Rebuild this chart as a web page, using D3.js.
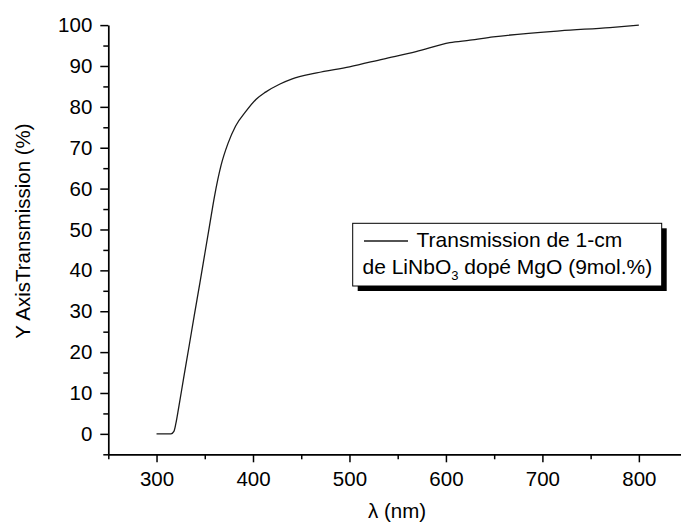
<!DOCTYPE html>
<html><head><meta charset="utf-8">
<script src="https://cdn.jsdelivr.net/npm/d3@7"></script>
<style>html,body{margin:0;padding:0;background:#fff;}svg{display:block;font-family:"Liberation Sans",Arial,sans-serif;}</style>
</head><body>
<script>
const wavelength = [300,315,318,320,323,328,334,339,345,350,355,360,367,374,382,393,403,413,428,440,466,500,535,569,604,625,649,718,770,800];
const transmission = [0,0,0.6,2.5,6.5,13.5,21.8,28.8,37,44,51,58,65.8,71,75.3,79,81.8,83.6,85.6,86.8,88.3,89.8,91.7,93.5,95.7,96.3,97.1,98.6,99.4,100];
const xMajorTicks = [300,400,500,600,700,800];
const xMinorTicks = [250,350,450,550,650,750,850];
const yMajorTicks = [0,10,20,30,40,50,60,70,80,90,100];
const yMinorTicks = [-5,5,15,25,35,45,55,65,75,85,95];
const xTitle = "λ (nm)";
const yTitle = "Y AxisTransmission (%)";
const legendLine1 = "Transmission de 1-cm";

const W = 681, H = 525;
const svg = d3.select("body").append("svg").attr("width", W).attr("height", H);
const x = d3.scaleLinear().domain([250, 850]).range([108.3, 687.1]);
const y = d3.scaleLinear().domain([-5, 100]).range([454.3, 25.1]);
const fs = 20.5;

// X axis
const gx = svg.append("g").attr("transform", `translate(0,${y(-5)})`);
gx.call(d3.axisBottom(x).tickValues(xMajorTicks).tickSize(8).tickSizeOuter(0).tickPadding(9).tickFormat(d3.format("d")));
gx.append("g").call(d3.axisBottom(x).tickValues(xMinorTicks).tickSize(5).tickSizeOuter(0).tickFormat(""))
  .select(".domain").remove();
// Y axis
const gy = svg.append("g").attr("transform", `translate(${x(250)},0)`);
gy.call(d3.axisLeft(y).tickValues(yMajorTicks).tickSize(8).tickSizeOuter(0).tickPadding(8).tickFormat(d3.format("d")));
gy.append("g").call(d3.axisLeft(y).tickValues(yMinorTicks).tickSize(5).tickSizeOuter(0).tickFormat(""))
  .select(".domain").remove();
svg.selectAll(".domain").attr("stroke", "#000").attr("stroke-width", 1.7);
svg.selectAll(".tick line").attr("stroke", "#000").attr("stroke-width", 1.5);
svg.selectAll(".tick text").attr("font-size", fs).attr("font-family", "Liberation Sans, Arial, sans-serif").attr("fill", "#000");

// titles
svg.append("text").attr("x", 397).attr("y", 518).attr("text-anchor", "middle")
  .attr("font-size", fs).attr("fill", "#000").text(xTitle);
svg.append("text").attr("transform", "translate(29.5,231) rotate(-90)").attr("text-anchor", "middle")
  .attr("font-size", fs).attr("fill", "#000").text(yTitle);

// curve
const pts = wavelength.map((w, i) => [w, transmission[i]]);
svg.append("path").datum(pts)
  .attr("fill", "none").attr("stroke", "#1a1a1a").attr("stroke-width", 1.3)
  .attr("d", d3.line().x(d => x(d[0])).y(d => y(d[1])).curve(d3.curveMonotoneX));

// legend
const lfs = 21;
const lx = 352.7, ly = 223.3, lw = 309, lh = 62.7;
svg.append("rect").attr("x", lx + 5).attr("y", ly + 5).attr("width", lw).attr("height", lh).attr("fill", "#000");
svg.append("rect").attr("x", lx).attr("y", ly).attr("width", lw).attr("height", lh)
  .attr("fill", "#fff").attr("stroke", "#000").attr("stroke-width", 1);
svg.append("line").attr("x1", 364).attr("x2", 408).attr("y1", 241).attr("y2", 241)
  .attr("stroke", "#1a1a1a").attr("stroke-width", 1.3);
svg.append("text").attr("x", 416.5).attr("y", 247).attr("font-size", lfs).attr("fill", "#000").text(legendLine1);
const t2 = svg.append("text").attr("x", 362.5).attr("y", 273.5).attr("font-size", lfs).attr("fill", "#000");
t2.append("tspan").text("de LiNbO");
t2.append("tspan").attr("font-size", 13).attr("dy", 6).text("3");
t2.append("tspan").attr("dy", -6).text(" dopé MgO (9mol.%)");
</script>
</body></html>
